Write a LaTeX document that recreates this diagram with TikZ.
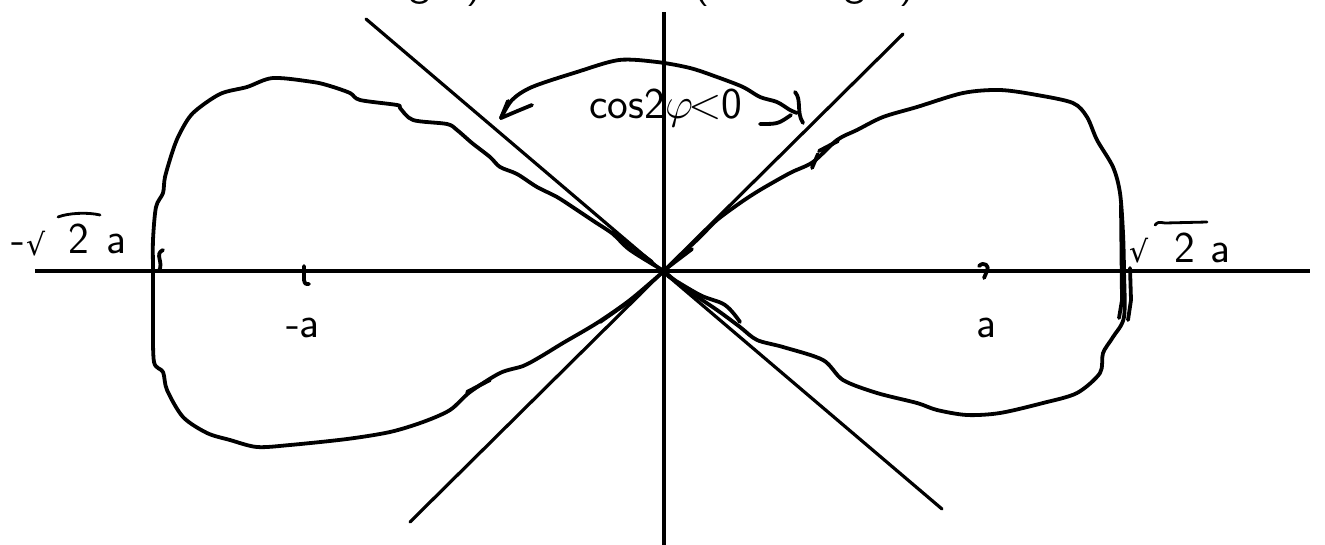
\documentclass[tikz,border=0pt]{standalone}
\usepackage{fontspec}
\usepackage{graphicx}
\newfontfamily\dejavu{DejaVu Sans}
\begin{document}
\begin{tikzpicture}[x=1pt,y=-1pt,
  axisline/.style={line width=3.2pt},
  ink/.style={line width=3.8pt, line cap=round, line join=round},
  lbl/.style={font=\fontsize{44}{50}\selectfont\sffamily, inner sep=0pt},
  rad/.style={font=\fontsize{30}{34}\selectfont\dejavu, inner sep=0pt}]
\useasboundingbox (0,0) rectangle (1325,544);
\clip (0,0) rectangle (1325,544);
\fill[white] (0,0) rectangle (1325,544);

% axes and asymptote lines
\coordinate (O) at (664,271);
\coordinate (xl) at (35,271);
\coordinate (xr) at (1310,271);
\coordinate (yt) at (664,12);
\coordinate (yb) at (664,548);
\coordinate (d1a) at (366,19);
\coordinate (d1b) at (942,509);
\coordinate (d2a) at (903,34);
\coordinate (d2b) at (410,522);
\draw[axisline] (xl) -- (xr);
\draw[axisline] (yt) -- (yb);
\draw[axisline, line cap=round] (d1a) -- (d1b);
\draw[axisline, line cap=round] (d2a) -- (d2b);

% left lobe
\draw[ink] plot[smooth, tension=0.5] coordinates {
 (664,271) (630,250) (613,234) (595,222) (577,210) (557,197) (537,187) (517,174)
 (500,167) (490,157) (472,143) (457,130) (447,124) (413,120) (400,108) (397,105)
 (360,100) (350,93) (330,86) (313,82) (273,78) (247,87) (220,94) (193,113)
 (180,133) (173,150) (165,177) (163,193) (156,207) (153,240) (153,271)
 (153,320) (154,362) (163,372) (167,390) (183,417) (207,433) (230,440)
 (257,447) (290,445) (347,439) (390,432) (423,422) (450,410) (470,392)
 (500,373) (523,366) (540,357) (563,343) (597,323) (630,300) (664,271)};
\draw[ink] (467,392) -- (490,380);
\draw[ink] (612,232) -- (652,262);
\draw[ink] (600,322) -- (640,294);

% right lobe
\draw[ink] plot[smooth, tension=0.5] coordinates {
 (664,271) (683,253) (700,237) (717,220) (740,203) (760,190) (790,173) (813,162)
 (837,140) (857,130) (883,117) (917,107) (963,93) (1000,90) (1037,95)
 (1073,103) (1087,117) (1097,140) (1113,167) (1120,193) (1123,233)
 (1124,271) (1124,317) (1113,337) (1103,353) (1100,373) (1077,393)
 (1043,403) (1000,413) (967,415) (937,410) (917,403) (877,393) (843,380)
 (823,360) (783,347) (757,340) (740,327) (717,310) (683,287) (664,271)};
\draw[ink] (667,268) -- (692,249);
\draw[ink] (812,168) -- (818,154);
\draw[ink] (819,151) -- (838,141);
\draw[ink] plot[smooth, tension=0.6] coordinates {(668,276) (700,295) (725,305) (740,322)};
\draw[ink] (1121,205) -- (1122,300) -- (1119,318);
\draw[ink] (1130,268) -- (1131,300) -- (1128,320);

% ticks and marks on the x axis
\draw[ink] (304,266) -- (304,280) .. controls (305,284) .. (309,284);
\draw[ink] (979,266) .. controls (984,261) and (990,266) .. (987,271) .. controls (986,274) .. (984,278);
\draw[ink] (163,250) .. controls (154,254) and (164,262) .. (159,271);

% cos 2 phi < 0 region arrow
\draw[ink] plot[smooth, tension=0.5] coordinates {
 (501,118) (512,100) (532,87) (577,72) (619,60) (657,62) (690,68) (717,77)
 (743,87) (760,97) (777,102) (790,110) (797,113)};
\draw[ink] (501,118) -- (508,101);
\draw[ink] (501,118) .. controls (515,112) .. (532,105);
\draw[ink] (760,124) .. controls (778,124) .. (791,115);
\draw[ink] (795,92) .. controls (802,100) and (796,112) .. (803,123);

% labels
\node[lbl, anchor=base east] (cosl) at (665,118) {cos2};
\node[lbl, anchor=base west] (phil) at (665,118) {\scalebox{1.75}{$\varphi$}};
\node[lbl, anchor=base west] (ltz) at (688,118) {<0};
\node[lbl, anchor=base] (ma) at (303,337) {-a};
\node[lbl, anchor=base] (pa) at (986,337) {a};

\node[lbl, anchor=base west] (lminus) at (11,253) {-};
\node[rad, anchor=base west] (lrad) at (26,255) {√};
\node[lbl, anchor=base west] (ltwo) at (68,253) {2};
\node[lbl, anchor=base west] (la) at (106,253) {a};
\draw[ink, line width=2.8pt] (58,217) .. controls (68,213) and (88,212) .. (100,215);

\node[rad, anchor=base west] (rrad) at (1129,262) {√};
\node[lbl, anchor=base west] (rtwo) at (1174,262) {2};
\node[lbl, anchor=base west] (ra) at (1210,262) {a};
\draw[ink, line width=2.8pt] (1155,225) .. controls (1158,222) .. (1165,223) -- (1207,222);

% clipped text at the top edge
\node[lbl, anchor=base] (tg1) at (420,-5) {g};
\node[lbl, anchor=base] (tp1) at (475,-5) {)};
\node[lbl, anchor=base] (tp2) at (702,-5) {(};
\node[lbl, anchor=base] (tg2) at (855,-5) {g};
\node[lbl, anchor=base] (tp3) at (908,-5) {)};
\end{tikzpicture}
\end{document}
